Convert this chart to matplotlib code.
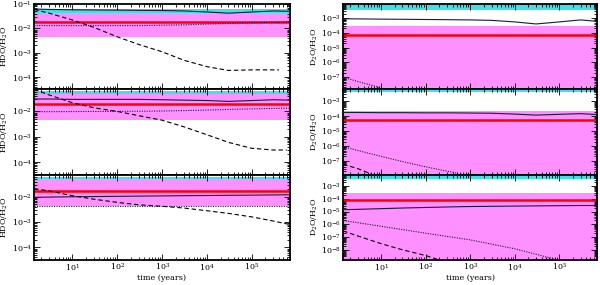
import matplotlib
matplotlib.use("Agg")
import matplotlib.pyplot as plt
import matplotlib.ticker as mticker
import numpy as np

plt.rcParams['font.family'] = ['DejaVu Serif']
plt.rcParams['mathtext.fontset'] = 'dejavuserif'
plt.rcParams['font.size'] = 5.8

t = [1.4, 3, 10, 30, 100, 300, 1e3, 3e3, 1e4, 3e4, 1e5, 3e5, 7e5]

# ---- HDO/H2O (left column) ----
hdo_solid = [
    [0.062, 0.060, 0.058, 0.057, 0.056, 0.055, 0.054, 0.052, 0.047, 0.042, 0.047, 0.052, 0.050],
    [0.031, 0.031, 0.030, 0.030, 0.030, 0.030, 0.029, 0.028, 0.027, 0.025, 0.027, 0.029, 0.028],
    [0.0095, 0.0097, 0.0100, 0.0102, 0.0104, 0.0106, 0.0108, 0.0110, 0.0112, 0.0114, 0.0116, 0.0118, 0.0120],
]
hdo_dotted = [
    [0.013, 0.013, 0.013, 0.013, 0.013, 0.013, 0.0135, 0.014, 0.015, 0.016, 0.017, 0.018, 0.0185],
    [0.0098, 0.0098, 0.0099, 0.0100, 0.0101, 0.0102, 0.0104, 0.0108, 0.0113, 0.0120, 0.0127, 0.0132, 0.0135],
    [0.0042, 0.0042, 0.0042, 0.0042, 0.0042, 0.0042, 0.0042, 0.0042, 0.0042, 0.0042, 0.0042, 0.0042, 0.0042],
]
t_dash_hdo = [
    [1.4, 3, 10, 30, 100, 300, 1e3, 3e3, 1e4, 3e4, 1e5, 4e5],
    [1.4, 3, 10, 30, 100, 300, 1e3, 3e3, 1e4, 3e4, 1e5, 3e5, 6e5],
    t,
]
hdo_dashed = [
    [0.060, 0.042, 0.022, 0.011, 0.0045, 0.0022, 0.0011, 5e-4, 2.7e-4, 1.9e-4, 2e-4, 2e-4],
    [0.075, 0.045, 0.022, 0.014, 0.010, 0.0068, 0.0045, 0.0025, 0.0012, 6e-4, 3.5e-4, 3e-4, 3e-4],
    [0.021, 0.017, 0.011, 0.008, 0.006, 0.0048, 0.0042, 0.0036, 0.0028, 0.0022, 0.0016, 0.0011, 8e-4],
]
hdo_cyan = [(0.042, 0.065), (0.05, 0.065), (0.05, 0.063)]
hdo_magenta = [(0.0045, 0.042), (0.0045, 0.05), (0.0042, 0.05)]
hdo_red = [0.0186, 0.019, 0.017]
hdo_ylim = [(3.2e-5, 0.1), (3.2e-5, 0.075), (3.2e-5, 0.075)]

# ---- D2O/H2O (right column) ----
d2o_solid = [
    [9e-4, 8.8e-4, 8.5e-4, 8.3e-4, 8e-4, 7.8e-4, 7.5e-4, 7e-4, 5.5e-4, 4e-4, 5.5e-4, 7.5e-4, 6e-4],
    [1.8e-4, 1.8e-4, 1.75e-4, 1.75e-4, 1.7e-4, 1.7e-4, 1.65e-4, 1.6e-4, 1.4e-4, 1.2e-4, 1.35e-4, 1.5e-4, 1.3e-4],
    [1.4e-5, 1.5e-5, 1.7e-5, 1.9e-5, 2.1e-5, 2.3e-5, 2.5e-5, 2.6e-5, 2.7e-5, 2.8e-5, 2.9e-5, 3e-5, 3e-5],
]
t_dot_d2o = [
    [1.4, 3, 13],
    [1.4, 3, 10, 30, 100, 500],
    [1.4, 10, 100, 1e3, 1e4, 8e4],
]
d2o_dotted = [
    [1e-7, 5e-8, 1.5e-8],
    [9e-7, 5e-7, 2e-7, 9e-8, 4e-8, 1.5e-8],
    [2e-6, 7e-7, 2e-7, 6e-8, 1.2e-8, 1.8e-9],
]
t_dash_d2o = [
    [1.4, 3],
    [1.4, 3, 6],
    [1.4, 3, 10, 30, 100, 200],
]
d2o_dashed = [
    [1e-9, 5e-10],
    [6e-8, 3e-8, 1.3e-8],
    [3e-7, 1.2e-7, 3e-8, 1e-8, 3.5e-9, 1.6e-9],
]
d2o_cyan = [(3.5e-3, 8.5e-3), (4e-3, 5.8e-3), (3.5e-3, 8e-3)]
d2o_magenta = [(1e-10, 3e-4), (1e-10, 2.2e-4), (1e-10, 3e-4)]
d2o_red = [7.5e-5, 6e-5, 7.5e-5]
d2o_ylim = [(1.5e-8, 9e-3), (1.2e-8, 6.5e-3), (1.6e-9, 8e-3)]

xlim = (1.4, 7e5)
cyan = '#40e0e8'
magenta = '#ff90ff'
line_col = '#1a1a3a'

fig = plt.figure(figsize=(6, 2.85), dpi=100)
gl = fig.add_gridspec(3, 1, left=0.057, right=0.483, bottom=0.088, top=0.986, hspace=0)
gr = fig.add_gridspec(3, 1, left=0.572, right=0.995, bottom=0.088, top=0.986, hspace=0)


def style(ax, bottom):
    ax.set_xscale('log')
    ax.set_yscale('log')
    ax.set_xlim(*xlim)
    for s in ax.spines.values():
        s.set_linewidth(1.3)
    ax.tick_params(which='both', direction='in', top=True, right=True, width=0.6)
    ax.tick_params(which='major', length=4)
    ax.tick_params(which='minor', length=2)
    ax.xaxis.set_major_locator(mticker.LogLocator(base=10, numticks=20))
    ax.xaxis.set_minor_locator(mticker.LogLocator(base=10, subs=np.arange(2, 10), numticks=20))
    ax.xaxis.set_minor_formatter(mticker.NullFormatter())
    ax.yaxis.set_major_locator(mticker.LogLocator(base=10, numticks=20))
    ax.yaxis.set_minor_locator(mticker.LogLocator(base=10, subs=np.arange(2, 10), numticks=20))
    ax.yaxis.set_minor_formatter(mticker.NullFormatter())
    if bottom:
        ax.set_xlabel('time (years)', labelpad=0.5)
        ax.tick_params(axis='x', pad=1.5)
    else:
        ax.tick_params(axis='x', labelbottom=False)
    ax.tick_params(axis='y', pad=1.5)


def panel(ax, cy, mg, red, solid, tdot, dotted, tdash, dashed, ylim, ylabel, bottom):
    ax.axhspan(mg[0], mg[1], color=magenta, lw=0, zorder=1)
    ax.axhspan(cy[0], cy[1], color=cyan, lw=0, zorder=1)
    ax.axhline(red, color='red', lw=1.8, zorder=2)
    ax.plot(t, solid, color=line_col, lw=0.8, zorder=3)
    ax.plot(tdot, dotted, color=line_col, lw=0.8, ls=(0, (1, 1.2)), zorder=3)
    ax.plot(tdash, dashed, color='black', lw=0.8, ls=(0, (4, 2.5)), zorder=3)
    ax.set_ylim(*ylim)
    ax.set_ylabel(ylabel)
    ax.yaxis.set_label_coords(-0.093, 0.5)
    style(ax, bottom)


for i in range(3):
    ax = fig.add_subplot(gl[i])
    panel(ax, hdo_cyan[i], hdo_magenta[i], hdo_red[i], hdo_solid[i],
          t, hdo_dotted[i], t_dash_hdo[i], hdo_dashed[i], hdo_ylim[i],
          'HDO/H$_2$O', i == 2)
    ax = fig.add_subplot(gr[i])
    panel(ax, d2o_cyan[i], d2o_magenta[i], d2o_red[i], d2o_solid[i],
          t_dot_d2o[i], d2o_dotted[i], t_dash_d2o[i], d2o_dashed[i], d2o_ylim[i],
          'D$_2$O/H$_2$O', i == 2)

fig.savefig('out.png', dpi=100)
